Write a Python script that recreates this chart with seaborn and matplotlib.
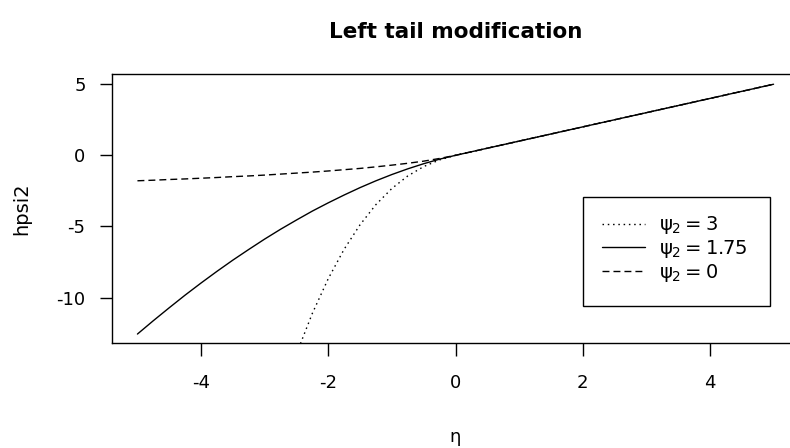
import matplotlib
matplotlib.use("Agg")
import matplotlib.pyplot as plt
from matplotlib.lines import Line2D
from matplotlib.patches import Rectangle
import seaborn as sns
import pandas as pd

# ---- data ----
eta = [-5.0, -4.75, -4.5, -4.25, -4.0, -3.75, -3.5, -3.25, -3.0, -2.75, -2.5,
       -2.25, -2.0, -1.75, -1.5, -1.25, -1.0, -0.75, -0.5, -0.25, 0.0,
       1.0, 2.0, 3.0, 4.0, 5.0]
hpsi_3 = [-71.67, -63.05, -55.13, -47.90, -41.33, -35.39, -30.04, -25.26, -21.00,
          -17.24, -13.96, -11.11, -8.67, -6.60, -4.88, -3.46, -2.33, -1.45, -0.79,
          -0.32, 0.0, 1.0, 2.0, 3.0, 4.0, 5.0]
hpsi_175 = [-12.57, -11.63, -10.72, -9.83, -8.98, -8.16, -7.37, -6.62, -5.89,
            -5.20, -4.55, -3.92, -3.34, -2.79, -2.27, -1.79, -1.35, -0.95, -0.59,
            -0.27, 0.0, 1.0, 2.0, 3.0, 4.0, 5.0]
hpsi_0 = [-1.79, -1.75, -1.70, -1.66, -1.61, -1.56, -1.50, -1.45, -1.39, -1.32,
          -1.25, -1.18, -1.10, -1.01, -0.92, -0.81, -0.69, -0.56, -0.41, -0.22,
          0.0, 1.0, 2.0, 3.0, 4.0, 5.0]
series_labels = [r"$\psi_2 = 3$", r"$\psi_2 = 1.75$", r"$\psi_2 = 0$"]
x_ticks = [-4, -2, 0, 2, 4]
y_ticks = [-10, -5, 0, 5]
title = "Left tail modification"
x_label = "η"
y_label = "hpsi2"

# ---- style ----
sns.set_theme(style="white")
plt.rcParams.update({
    "font.family": ["DejaVu Sans"],
    "mathtext.fontset": "custom",
    "mathtext.rm": "DejaVu Sans",
    "mathtext.it": "DejaVu Sans",
    "mathtext.bf": "DejaVu Sans:bold",
    "axes.unicode_minus": False,
    "axes.edgecolor": "black",
    "axes.linewidth": 1.0,
    "xtick.bottom": True,
    "ytick.left": True,
    "xtick.color": "black",
    "ytick.color": "black",
    "text.color": "black",
    "axes.labelcolor": "black",
})

W, H = 790, 448
fig = plt.figure(figsize=(W / 100, H / 100), dpi=100)
ax_l, ax_r, ax_t, ax_b = 112, 799, 74, 343
ax = fig.add_axes([ax_l / W, 1 - ax_b / H, (ax_r - ax_l) / W, (ax_b - ax_t) / H])

keys = ["3", "1.75", "0"]
df = pd.DataFrame({
    "eta": eta * 3,
    "hpsi2": hpsi_175 + hpsi_3 + hpsi_0,
    "series": ["1.75"] * len(eta) + ["3"] * len(eta) + ["0"] * len(eta),
})
dash_map = {"3": (1.1, 2.7), "1.75": "", "0": (5, 2.9)}
sns.lineplot(data=df, x="eta", y="hpsi2", style="series", style_order=["1.75", "3", "0"],
             dashes=dash_map, color="black", linewidth=1.0, legend=False,
             estimator=None, sort=False, ax=ax)

ax.set_xlim(-5.4, 5.4)
ax.set_ylim(-13.2, 5.72)
ax.set_xticks(x_ticks)
ax.set_yticks(y_ticks)
ax.set_xticklabels([str(v) for v in x_ticks])
ax.set_yticklabels([str(v) for v in y_ticks])
ax.tick_params(axis="x", length=9, width=1.0, pad=13, labelsize=13)
ax.tick_params(axis="y", length=9, width=1.0, pad=10, labelsize=13)
for s in ax.spines.values():
    s.set_visible(True)
    s.set_color("black")

ax.set_xlabel(x_label, fontsize=13)
ax.xaxis.set_label_coords(0.5, (ax_b - 437) / (ax_b - ax_t))
ax.xaxis.label.set_verticalalignment("center")
ax.set_ylabel(y_label, fontsize=14)
ax.yaxis.set_label_coords((22 - ax_l) / (ax_r - ax_l), 0.5)
ax.yaxis.label.set_verticalalignment("center")

fig.text(455.5 / W, 1 - 32 / H, title, ha="center", va="center",
         fontsize=15.5, fontweight="bold")

# legend
handles = [Line2D([], [], color="black", lw=1.0, dashes=dash_map[k]) if dash_map[k]
           else Line2D([], [], color="black", lw=1.0) for k in keys]
ax.legend(handles, series_labels, loc="center left",
          bbox_to_anchor=(602 / W, 1 - 249 / H), bbox_transform=fig.transFigure,
          frameon=False, borderpad=0, borderaxespad=0, handlelength=2.2,
          handletextpad=0.75, labelspacing=0.08, fontsize=14)
fig.add_artist(Rectangle((583 / W, 1 - 306 / H), (770 - 583) / W, (306 - 197) / H,
                         transform=fig.transFigure, fill=False, edgecolor="black",
                         linewidth=1.0))

fig.savefig("out.png", dpi=100)
